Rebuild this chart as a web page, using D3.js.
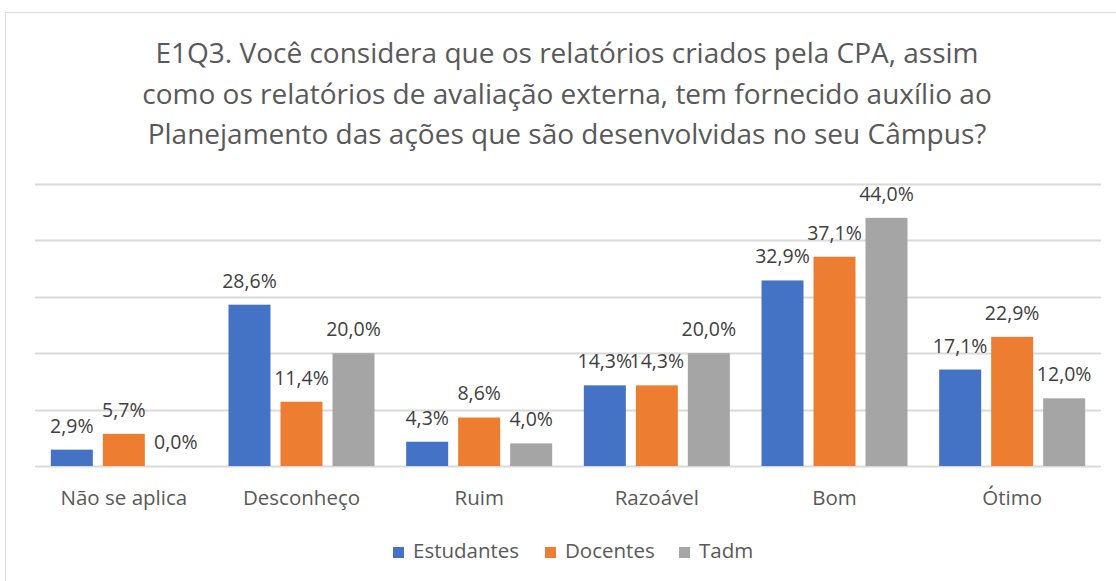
<!DOCTYPE html>
<html>
<head>
<meta charset="utf-8">
<script src="https://cdn.jsdelivr.net/npm/d3@7"></script>
<style>
  body { margin: 0; background: #fff; }
  svg text { font-family: "Open Sans", sans-serif; }
</style>
</head>
<body>
<div id="chart"></div>
<script>
// data
var categories = ["Não se aplica", "Desconheço", "Ruim", "Razoável", "Bom", "Ótimo"];
var seriesNames = ["Estudantes", "Docentes", "Tadm"];
var estudantes = [2.9, 28.6, 4.3, 14.3, 32.9, 17.1];
var docentes = [5.7, 11.4, 8.6, 14.3, 37.1, 22.9];
var tadm = [0.0, 20.0, 4.0, 20.0, 44.0, 12.0];
var yTicks = [0, 10, 20, 30, 40, 50];
var titleLines = [
  "E1Q3. Você considera que os relatórios criados pela CPA, assim",
  "como os relatórios de avaliação externa, tem fornecido auxílio ao",
  "Planejamento das ações que são desenvolvidas no seu Câmpus?"
];
var colors = ["#4472C4", "#ED7D31", "#A5A5A5"];

var seriesValues = [estudantes, docentes, tadm];

var width = 1116,
    height = 581,
    margin = {top: 184, right: 15, bottom: 115, left: 35};

var svg = d3.select("#chart").append("svg")
  .attr("width", width)
  .attr("height", height);

// chart border
svg.append("rect")
  .attr("x", 5.5).attr("y", 12.5)
  .attr("width", 1130).attr("height", 620)
  .attr("fill", "none")
  .attr("stroke", "#d9d9d9")
  .attr("stroke-width", 1);

// title
svg.append("text")
  .attr("text-anchor", "middle")
  .attr("fill", "#595959")
  .style("font-size", "28px")
  .selectAll("tspan")
  .data(titleLines)
  .enter().append("tspan")
    .attr("x", 567)
    .attr("y", function(d, i){ return 63 + i * 40.5; })
    .text(function(d){ return d; });

var x0 = d3.scaleBand()
  .domain(categories)
  .range([margin.left, width - margin.right])
  .padding(0);

var x1 = d3.scaleBand()
  .domain(seriesNames)
  .range([-78, 78])
  .paddingInner(10 / 52)
  .paddingOuter(5 / 52);

var y = d3.scaleLinear()
  .domain([0, 50])
  .range([height - margin.bottom, margin.top]);

// gridlines
svg.append("g")
  .selectAll("line")
  .data(yTicks)
  .enter().append("line")
    .attr("x1", margin.left)
    .attr("x2", width - margin.right)
    .attr("y1", function(d){ return Math.round(y(d)) + 0.5; })
    .attr("y2", function(d){ return Math.round(y(d)) + 0.5; })
    .attr("stroke", "#d9d9d9")
    .attr("stroke-width", 2);

// bars
var groups = svg.append("g")
  .selectAll("g")
  .data(categories)
  .enter().append("g")
    .attr("transform", function(d){
      return "translate(" + (x0(d) + x0.bandwidth() / 2) + ",0)";
    });

function rows(d, ci){
  return seriesNames.map(function(s, si){
    return {series: s, si: si, value: seriesValues[si][ci]};
  });
}

groups.selectAll("rect")
  .data(rows)
  .enter().append("rect")
    .attr("x", function(d){ return x1(d.series); })
    .attr("width", x1.bandwidth())
    .attr("y", function(d){ return y(d.value); })
    .attr("height", function(d){ return y(0) - y(d.value); })
    .attr("fill", function(d){ return colors[d.si]; });

groups.selectAll("text")
  .data(rows)
  .enter().append("text")
    .attr("x", function(d){ return x1(d.series) + x1.bandwidth() / 2; })
    .attr("y", function(d){ return y(d.value) - 17; })
    .attr("text-anchor", "middle")
    .attr("fill", "#404040")
    .style("font-size", "19.5px")
    .text(function(d){ return d.value.toFixed(1).replace(".", ",") + "%"; });

// category axis
var xAxis = d3.axisBottom(x0).tickSize(0).tickPadding(0);
var xg = svg.append("g")
  .attr("transform", "translate(0," + (height - margin.bottom) + ")")
  .call(xAxis);
xg.select(".domain").remove();
xg.selectAll("text")
  .attr("dy", null)
  .attr("y", 39)
  .attr("fill", "#595959")
  .style("font-size", "20.5px")
  .style("font-family", "'Open Sans', sans-serif");

// legend
var legendX = [393, 545, 679];
var legend = svg.append("g")
  .selectAll("g")
  .data(seriesNames)
  .enter().append("g")
    .attr("transform", function(d, i){ return "translate(" + legendX[i] + ",547)"; });

legend.append("rect")
  .attr("width", 11).attr("height", 11)
  .attr("fill", function(d, i){ return colors[i]; });

legend.append("text")
  .attr("x", 20)
  .attr("y", 11)
  .attr("fill", "#595959")
  .style("font-size", "20.5px")
  .text(function(d){ return d; });
</script>
</body>
</html>
